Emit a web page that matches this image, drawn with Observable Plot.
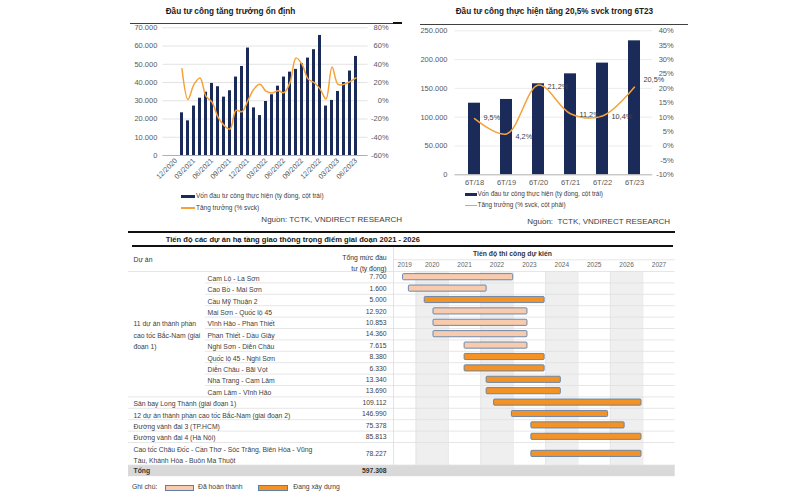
<!DOCTYPE html>
<html><head><meta charset="utf-8">
<script src="https://cdn.jsdelivr.net/npm/d3@7"></script>
<script src="https://cdn.jsdelivr.net/npm/@observablehq/plot@0.6"></script>
<style>
body{margin:0;background:#fff;font-family:"Liberation Sans",Arial,sans-serif;}
#root{position:relative;width:800px;height:500px;overflow:hidden;background:#fff;}
.abs{position:absolute;white-space:pre;}
</style></head><body><div id="root"></div>
<script>
// ---------- DATA ----------
const months = ["12/2020","01/2021","02/2021","03/2021","04/2021","05/2021","06/2021","07/2021","08/2021","09/2021","10/2021","11/2021","12/2021",
  "01/2022","02/2022","03/2022","04/2022","05/2022","06/2022","07/2022","08/2022","09/2022","10/2022","11/2022","12/2022",
  "01/2023","02/2023","03/2023","04/2023","05/2023","06/2023"];
const monthlyInvest = [null,23400,19000,27100,31400,34700,39500,37700,32000,35500,43000,48800,58900,
  26100,21900,29600,33300,38000,43000,45700,47200,50300,53400,58000,65800,
  27100,30200,35100,40000,46300,54300];
const monthlyGrowth = [null,35,1.5,18,25,5,-1.5,-18,-27,-31,-10.5,-12,0.5,
  13,18,10.5,8.5,11,9,20,47,40,24,20,13,
  2,37,18,18,21,25];

const halfYears = ["6T/18","6T/19","6T/20","6T/21","6T/22","6T/23"];
const halfInvest = [124300,130800,158000,175300,193900,232600];
const halfGrowth = [9.5,4.2,21.2,11.2,10.4,20.5];

const projects = ["Cam Lộ - La Sơn","Cao Bồ - Mai Sơn","Cầu Mỹ Thuận 2","Mai Sơn - Quốc lộ 45","Vĩnh Hảo - Phan Thiết",
  "Phan Thiết - Dầu Giây","Nghi Sơn - Diễn Châu","Quốc lộ 45 - Nghi Sơn","Diễn Châu - Bãi Vọt","Nha Trang - Cam Lâm",
  "Cam Lâm - Vĩnh Hảo","Sân bay Long Thành (giai đoạn 1)","12 dự án thành phần cao tốc Bắc-Nam (giai đoạn 2)",
  "Đường vành đai 3 (TP.HCM)","Đường vành đai 4 (Hà Nội)",
  "Cao tốc Châu Đốc - Cần Thơ - Sóc Trăng, Biên Hòa - Vũng\nTàu, Khánh Hòa - Buôn Ma Thuột"];
const investments = [7700,1600,5000,12920,10853,14360,7615,8380,6330,13340,13690,109112,146990,75378,85813,78227];
const starts = [2019.6,2019.78,2020.27,2020.54,2020.54,2020.54,2021.5,2021.5,2021.5,2022.18,2022.18,2022.41,2022.96,2023.56,2023.56,2023.56];
const ends   = [2023.0,2022.18,2023.97,2023.44,2023.44,2023.44,2023.44,2023.97,2023.97,2024.47,2024.47,2026.96,2025.93,2026.44,2026.96,2026.96];
const DONE = "Đã hoàn thành", BUILD = "Đang xây dựng";
const statuses = [DONE,DONE,BUILD,DONE,DONE,DONE,DONE,BUILD,BUILD,BUILD,BUILD,BUILD,BUILD,BUILD,BUILD,BUILD];
const groupLabel = "11 dự án thành phần\ncao tốc Bắc-Nam (giai\nđoạn 1)";
const groupSize = 11;
const years = [2019,2020,2021,2022,2023,2024,2025,2026,2027];
const shadedYears = [2020,2022,2024,2026];

// ---------- STYLE / LAYOUT ----------
const NAVY = "#1a2b5a", ORANGE = "#f6a23a", AXIS = "#595959", TXT = "#404040";
const LIGHT = "#f8cbad", ORG = "#f39325", BSTROKE = "#5d7fab";
const FONT = "Liberation Sans, Arial, sans-serif";
const halfLabelDy = [-1, 3, 2, 1, 1, -7];
const vn = d3.formatLocale({decimal: ",", thousands: ".", grouping: [3], currency: ["", ""]});
const fmtInt = vn.format(",d");
const fmtPct = vn.format(".1f");

const root = document.getElementById("root");
function place(el, left, top) { el.style.position = "absolute"; el.style.left = left + "px"; el.style.top = top + "px"; root.appendChild(el); return el; }
function label(text, left, cy, size, opts = {}) {
  const d = document.createElement("div"); d.className = "abs"; d.textContent = text;
  d.style.fontSize = size + "px"; d.style.lineHeight = size + "px"; d.style.color = opts.color || TXT;
  if (opts.bold) d.style.fontWeight = "bold";
  if (opts.right != null) { d.style.position = "absolute"; d.style.right = (800 - opts.right) + "px"; d.style.top = (cy - size / 2) + "px"; root.appendChild(d); return d; }
  return place(d, left, cy - size / 2);
}
function box(left, top, w, h, bg, border) {
  const d = document.createElement("div"); d.style.width = w + "px"; d.style.height = h + "px"; d.style.background = bg;
  d.style.boxSizing = "border-box"; if (border) d.style.border = border; return place(d, left, top);
}

// ---------- CHART 1 ----------
const rows1 = months.map((m, i) => ({month: m, invest: monthlyInvest[i], growth: monthlyGrowth[i]}));
const g1 = g => (g + 60) * 500; // right axis -60..80% onto left 0..70000
const p1 = Plot.plot({
  width: 280, height: 170, marginLeft: 42.4, marginRight: 32.4, marginTop: 7.3, marginBottom: 35,
  style: {fontFamily: FONT, fontSize: "7.5px", color: AXIS, background: "transparent", overflow: "visible"},
  x: {type: "band", domain: months, paddingInner: 0.55, paddingOuter: 0.275},
  y: {domain: [0, 70000]},
  marks: [
    Plot.gridY(d3.range(10000, 70001, 10000), {stroke: "#e3e3e3", strokeOpacity: 1}),
    Plot.barY(rows1.filter(d => d.invest != null), {x: "month", y: "invest", fill: NAVY}),
    Plot.ruleY([0], {stroke: "#b0b0b0"}),
    Plot.line(rows1.filter(d => d.growth != null), {x: "month", y: d => g1(d.growth), stroke: ORANGE, strokeWidth: 1.5, curve: "catmull-rom"}),
    Plot.axisY(d3.range(0, 70001, 10000), {anchor: "left", tickSize: 0, tickPadding: 5.5, tickFormat: fmtInt, label: null, fill: AXIS}),
    Plot.axisY(d3.range(-60, 81, 20).map(g1), {anchor: "right", tickSize: 0, tickPadding: 0, dx: 20.5, textAnchor: "end", tickFormat: v => Math.round(v / 500 - 60) + "%", label: null, fill: AXIS}),
    Plot.axisX(months.filter((d, i) => i % 3 === 0), {anchor: "bottom", tickSize: 0, tickPadding: 4, tickRotate: -45, label: null, fill: AXIS, fontSize: 7.2})
  ]
});
place(p1, 120, 20);
label("Đầu tư công tăng trưởng ổn định", 165.7, 12, 8.2, {bold: true, color: "#1a1a1a"});
box(130, 22.8, 272, 1, "#404040");
box(393, 22.3, 9, 2, "#111");
box(181, 194.8, 14, 3, NAVY);
label("Vốn đầu tư công thực hiện (tỷ đồng, cột trái)", 196, 196.3, 6.5);
box(181, 207.3, 14, 1.5, ORANGE);
label("Tăng trưởng (% svck)", 196, 208, 6.5);
label("Nguồn: TCTK, VNDIRECT RESEARCH", 0, 220, 8, {right: 402});

// ---------- CHART 2 ----------
const rows2 = halfYears.map((p, i) => ({period: p, invest: halfInvest[i], growth: halfGrowth[i], dy: halfLabelDy[i]}));
const g2 = g => (g + 10) * 5000; // right axis -10..40% onto 0..250000
const p2 = Plot.plot({
  width: 280, height: 170, marginLeft: 44.5, marginRight: 37.8, marginTop: 10.3, marginBottom: 15.7,
  style: {fontFamily: FONT, fontSize: "7.5px", color: AXIS, background: "transparent", overflow: "visible"},
  x: {type: "band", domain: halfYears, paddingInner: 0.64, paddingOuter: 0.32},
  y: {domain: [0, 250000]},
  marks: [
    Plot.gridY(d3.range(50000, 250001, 50000), {stroke: "#ececec", strokeOpacity: 1}),
    Plot.barY(rows2, {x: "period", y: "invest", fill: NAVY}),
    Plot.ruleY([0], {stroke: "#b0b0b0"}),
    Plot.line(rows2, {x: "period", y: d => g2(d.growth), stroke: ORANGE, strokeWidth: 1.5, curve: "catmull-rom"}),
    ...rows2.map(r => Plot.text([r], {x: "period", y: d => g2(d.growth), text: d => fmtPct(d.growth) + "%", textAnchor: "start", dx: 9, dy: r.dy, fill: TXT, fontSize: 7.3})),
    Plot.axisY(d3.range(0, 250001, 50000), {anchor: "left", tickSize: 0, tickPadding: 7.5, tickFormat: fmtInt, label: null, fill: AXIS}),
    Plot.axisY(d3.range(-10, 41, 5).map(g2), {anchor: "right", tickSize: 0, tickPadding: 0, dx: 21, textAnchor: "end", tickFormat: v => Math.round(v / 5000 - 10) + "%", label: null, fill: AXIS}),
    Plot.axisX(halfYears, {anchor: "bottom", tickSize: 0, tickPadding: 5, label: null, fill: AXIS})
  ]
});
place(p2, 410, 20);
label("Đầu tư công thực hiện tăng 20,5% svck trong 6T23", 455.7, 12.3, 8.2, {bold: true, color: "#1a1a1a"});
box(420, 23.5, 268, 1, "#404040");
box(465, 192.6, 12, 3, NAVY);
label("Vốn đầu tư công thực hiện (tỷ đồng, cột trái)", 477.5, 194, 6.4);
box(465, 204.8, 12, 1.5, ORANGE);
label("Tăng trưởng (% svck, cột phải)", 477.5, 205.5, 6.4);
label("Nguồn:  TCTK, VNDIRECT RESEARCH", 527.3, 221.5, 8);

// ---------- TABLE / GANTT ----------
const L = {svgLeft: 120, svgTop: 247, svgW: 570, svgH: 231, tblLeft: 128, gantt0: 393, ganttEnd: 674.7,
  nameCol: 133, subCol: 207, valRight: 386, yr2020Px: 415.5, yearPx: 32.4, rowTopPx: 271, rowPx: 11.4};
const X = px => 2020 + (px - L.yr2020Px) / L.yearPx;             // page px -> year scale
const U = py => (py - L.rowTopPx) / L.rowPx;                      // page px -> row units
let acc = 0;
const projRows = projects.map((name, i) => {
  const span = name.includes("\n") ? 2 : 1;
  const r = {name, inv: investments[i], start: starts[i], end: ends[i], status: statuses[i], group: i < groupSize, top: acc, center: acc + span / 2};
  acc += span; return r;
});
const totalTop = acc;
const groupCenter = groupSize / 2;
const fullLines = [0, groupSize, ...projRows.slice(groupSize + 1).map(d => d.top), totalTop];
const subLines = d3.range(1, groupSize);

const p3 = Plot.plot({
  width: L.svgW, height: L.svgH, marginLeft: L.gantt0 - L.svgLeft, marginRight: L.svgLeft + L.svgW - L.ganttEnd, marginTop: 0, marginBottom: 0,
  style: {fontFamily: FONT, fontSize: "6.8px", color: TXT, background: "transparent", overflow: "visible"},
  x: {domain: [X(L.gantt0), 2028], axis: null},
  y: {domain: [U(L.svgTop), U(L.svgTop + L.svgH)], reverse: true, axis: null},
  color: {domain: [DONE, BUILD], range: [LIGHT, ORG]},
  marks: [
    Plot.rect(shadedYears, {x1: d => d, x2: d => d + 1, y1: 0, y2: totalTop, fill: "#efefef"}),
    Plot.ruleX(d3.range(2020, 2028), {y1: 0, y2: totalTop, stroke: "#e2e2e2", strokeWidth: 0.8}),
    Plot.rect([0], {x1: X(L.tblLeft), x2: 2028, y1: totalTop, y2: totalTop + 1, fill: "#d9d9d9"}),
    Plot.ruleY(fullLines, {x1: X(L.tblLeft), x2: 2028, stroke: "#e0e0e0", strokeWidth: 0.8}),
    Plot.ruleY(subLines, {x1: X(L.subCol - 2), x2: 2028, stroke: "#e0e0e0", strokeWidth: 0.8}),
    Plot.ruleY([U(259.3)], {x1: X(L.gantt0), x2: 2028, stroke: "#e0e0e0", strokeWidth: 0.8}),
    Plot.ruleX([X(L.gantt0)], {y1: U(L.svgTop), y2: totalTop, stroke: "#dcdcdc", strokeWidth: 0.8}),
    // bars
    Plot.rect(projRows, {x1: "start", x2: "end", y1: d => d.center - 0.27, y2: d => d.center + 0.27, fill: "status", stroke: BSTROKE, strokeWidth: 0.9, rx: 1}),
    // header
    Plot.text(["Dự án"], {x: X(L.nameCol), y: U(259), text: d => d, textAnchor: "start", fill: "#333"}),
    Plot.text(["Tổng mức đầu\ntư (tỷ đồng)"], {x: X(L.valRight), y: U(261.5), text: d => d, textAnchor: "end", lineHeight: 1.6, fill: "#333"}),
    Plot.text(["Tiến độ thi công dự kiến"], {x: X(512), y: U(253.3), text: d => d, fill: "#333", fontWeight: "bold"}),
    Plot.text(years, {x: d => (Math.max(d, X(L.gantt0)) + d + 1) / 2, y: U(264.5), text: d => String(d), fill: "#666", fontSize: 6.5}),
    // table body
    Plot.text(projRows, {x: d => X(d.group ? L.subCol : L.nameCol), y: "center", text: "name", textAnchor: "start", lineHeight: 1.62, fill: TXT}),
    Plot.text(projRows, {x: X(L.valRight), y: "center", text: d => fmtInt(d.inv), textAnchor: "end", fill: TXT}),
    Plot.text([groupLabel], {x: X(L.nameCol), y: groupCenter, text: d => d, textAnchor: "start", lineHeight: 1.68, fill: TXT}),
    Plot.text(["Tổng"], {x: X(L.nameCol), y: totalTop + 0.5, text: d => d, textAnchor: "start", fontWeight: "bold", fill: "#333"}),
    Plot.text([d3.sum(investments)], {x: X(L.valRight), y: totalTop + 0.5, text: d => fmtInt(d), textAnchor: "end", fontWeight: "bold", fill: "#333"})
  ]
});
place(p3, L.svgLeft, L.svgTop);
box(128, 231, 547, 1.8, "#111");
box(131.7, 245.3, 541.3, 1.8, "#111");
label("Tiến độ các dự án hạ tầng giao thông trọng điểm giai đoạn 2021 - 2026", 165.7, 239.5, 7.6, {bold: true, color: "#1a1a1a"});
label("Ghi chú:", 132, 487.5, 6.8);
box(165, 484.5, 29, 6, LIGHT, "1px solid " + BSTROKE);
label(DONE, 198, 487.5, 6.8);
box(258.3, 484.5, 30, 6, ORG, "1px solid " + BSTROKE);
label(BUILD, 293.3, 487.5, 6.8);
</script></body></html>
